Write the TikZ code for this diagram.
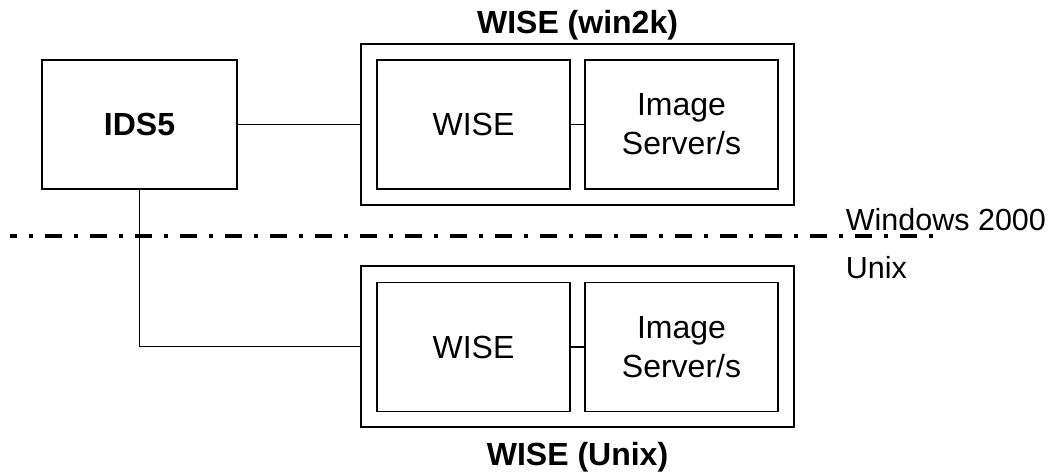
\documentclass[tikz,border=0pt]{standalone}
\usepackage{fontspec}
\setmainfont{Liberation Sans}
\usetikzlibrary{positioning}

\begin{document}
\begin{tikzpicture}[x=1pt,y=-1pt,line width=1.8pt,
    font=\fontsize{32}{39}\selectfont,
    box/.style={draw,inner sep=0pt,outer sep=0pt,minimum width=#1,minimum height=129pt,align=center},
    frame/.style={draw,inner sep=0pt,outer sep=0pt,minimum width=433pt,minimum height=161pt},
    side/.style={anchor=base west,inner sep=0pt,font=\fontsize{30.5}{39}\selectfont}]
    \useasboundingbox (0,0) rectangle (1056,473);
    \node[box=195pt,font=\fontsize{32}{39}\selectfont\bfseries] (ids) at (139.5,124.5) {IDS5};
    \node[frame] (winbox) at (577.5,124.5) {};
    \node[box=193pt] (wisew) at (473.5,124.5) {WISE};
    \node[box=193pt] (imgw) at (681.5,124.5) {Image\\Server/s};
    \node[frame] (unixbox) at (577.5,346.5) {};
    \node[box=193pt] (wiseu) at (473.5,347) {WISE};
    \node[box=193pt] (imgu) at (681.5,347) {Image\\Server/s};
    \node[anchor=base,font=\fontsize{32}{39}\selectfont\bfseries] (wintitle) at (577.5,34) {WISE (win2k)};
    \node[anchor=base,font=\fontsize{32}{39}\selectfont\bfseries] (unixtitle) at (577.5,465) {WISE (Unix)};
    \node[side] (winlabel) at (845,230) {Windows 2000};
    \node[side] (unixlabel) at (845,278) {Unix};
    \coordinate (sepl) at (10,236);
    \coordinate (sepr) at (937,236);
    \draw
      (ids.east) -- (winbox.west)
      (ids.south) |- (unixbox.west)
      (wisew.east) -- (imgw.west)
      (wiseu.east) -- (imgu.west);
    \draw[line width=4pt,dash pattern=on 17pt off 12pt on 4pt off 12pt,dash phase=10pt] (sepl) -- (sepr);
\end{tikzpicture}
\end{document}
